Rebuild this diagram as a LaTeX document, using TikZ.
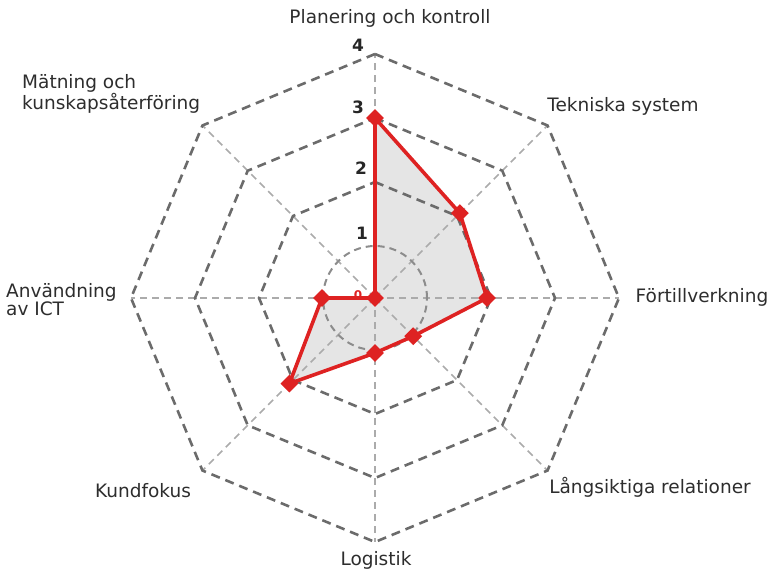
\documentclass[tikz,border=0pt]{standalone}
\usepackage{fontspec}
\setmainfont{DejaVu Sans}
\usetikzlibrary{calc,shapes.geometric}
\definecolor{seriesred}{RGB}{222,34,34}
\definecolor{labelgray}{RGB}{45,45,45}
\begin{document}
\begin{tikzpicture}[x=1pt,y=-1pt,
  spoke/.style={draw=black!33, line width=1.6pt, dash pattern=on 7pt off 5pt},
  ring/.style={draw=black!58, line width=2.6pt, dash pattern=on 9pt off 6pt},
  innerring/.style={draw=black!45, line width=2pt, dash pattern=on 7pt off 5pt},
  series/.style={draw=seriesred, line width=3.6pt, line join=miter},
  datamark/.style={diamond, fill=seriesred, inner sep=0pt, minimum size=18pt},
  axislabel/.style={inner sep=0pt, text=labelgray, font=\fontsize{18.5}{19.5}\selectfont},
  ticklabel/.style={inner sep=0pt, text=black!85, font=\bfseries\fontsize{17}{18}\selectfont},
]
\useasboundingbox (0,0) rectangle (772,570);
\coordinate (C) at (375,298);

% data points of the series (up = 270, clockwise)
\coordinate (p1) at ($(C)+(270:180)$);
\coordinate (p2) at ($(C)+(315:120)$);
\coordinate (p3) at ($(C)+(0:112)$);
\coordinate (p4) at ($(C)+(45:54)$);
\coordinate (p5) at ($(C)+(90:55)$);
\coordinate (p6) at ($(C)+(135:121)$);
\coordinate (p7) at ($(C)+(180:53)$);
\coordinate (p8) at (C);

% filled area
\fill[black!10] (p1) -- (p2) -- (p3) -- (p4) -- (p5) -- (p6) -- (p7) -- (p8) -- cycle;

% spokes
\foreach \a in {0,45,...,315}
  \draw[spoke] (C) -- ($(C)+(\a:244)$);

% inner circle and octagonal grid rings
\draw[innerring] (C) circle[radius=52pt];
\foreach \r in {116,180,244}
  \draw[ring] ($(C)+(270:\r)$) \foreach \a in {315,0,45,90,135,180,225} { -- ($(C)+(\a:\r)$) } -- cycle;

% scale labels
\node[ticklabel] (t4) at (358,45) {4};
\node[ticklabel] (t3) at (358,107) {3};
\node[ticklabel] (t2) at (361,168) {2};
\node[ticklabel] (t1) at (362,233) {1};
\node[inner sep=0pt, text=seriesred, font=\bfseries\fontsize{12}{13}\selectfont] (t0) at (358,295) {0};

% series line and markers
\draw[series] (p1) -- (p2) -- (p3) -- (p4) -- (p5) -- (p6) -- (p7) -- (p8) -- cycle;
\foreach \i in {1,...,8}
  \node[datamark] (m\i) at (p\i) {};

% category labels
\node[axislabel] (c1) at (390,18) {Planering och kontroll};
\node[axislabel] (c2) at (623,106) {Tekniska system};
\node[axislabel] (c3) at (702,297) {Förtillverkning};
\node[axislabel] (c4) at (650,487) {Långsiktiga relationer};
\node[axislabel] (c5) at (376,560) {Logistik};
\node[axislabel] (c6) at (143,491) {Kundfokus};
\node[axislabel, align=left, anchor=west, font=\fontsize{18.5}{18}\selectfont] (c7) at (6,300) {Användning\\av ICT};
\node[axislabel, align=left, anchor=west] (c8) at (22,94) {Mätning och\\kunskapsåterföring};
\end{tikzpicture}
\end{document}
